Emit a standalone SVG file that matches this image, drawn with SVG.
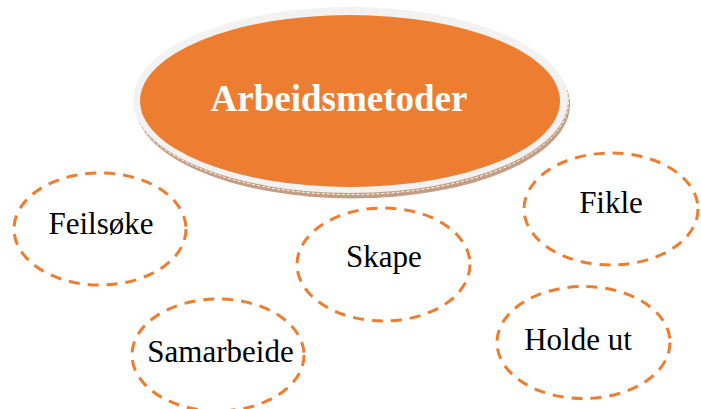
<svg xmlns="http://www.w3.org/2000/svg" width="701" height="409" viewBox="0 0 701 409">
<style>
.bub{fill:none;stroke:#ED7D31;stroke-width:3;stroke-dasharray:11 8}
.lbl{font-family:"Liberation Serif","Times New Roman",serif;font-size:31px;fill:#000;text-anchor:middle}
.title{font-family:"Liberation Serif","Times New Roman",serif;font-size:37px;font-weight:bold;fill:#fff;text-anchor:middle}
</style>
<rect width="701" height="409" fill="#fff"/>
<g id="main">
<ellipse cx="352.5" cy="104.5" rx="217.5" ry="94" fill="#c49e83"/>
<ellipse cx="351" cy="101.5" rx="217.5" ry="93" fill="none" stroke="#fff" stroke-width="1" stroke-dasharray="3 2"/>
<ellipse cx="350.5" cy="100" rx="217.5" ry="93" fill="#f2f2f2"/>
<ellipse cx="350" cy="101" rx="210" ry="86" fill="#ED7D31"/>
<text class="title" x="339" y="111">Arbeidsmetoder</text>
</g>
<g id="feilsoke">
<ellipse class="bub" cx="100" cy="229" rx="86" ry="56"/>
<text class="lbl" x="101" y="234">Feilsøke</text>
</g>
<g id="skape">
<ellipse class="bub" cx="383.5" cy="264.5" rx="86.5" ry="56.5"/>
<text class="lbl" x="384" y="267">Skape</text>
</g>
<g id="fikle">
<ellipse class="bub" cx="611" cy="209" rx="87" ry="56"/>
<text class="lbl" x="611" y="213">Fikle</text>
</g>
<g id="holdeut">
<ellipse class="bub" cx="583.5" cy="342.5" rx="86.5" ry="56"/>
<text class="lbl" x="578" y="350">Holde ut</text>
</g>
<g id="samarbeide">
<ellipse class="bub" cx="218" cy="355" rx="86" ry="56"/>
<text class="lbl" x="220.5" y="362">Samarbeide</text>
</g>
<g id="connectors"></g>
</svg>
